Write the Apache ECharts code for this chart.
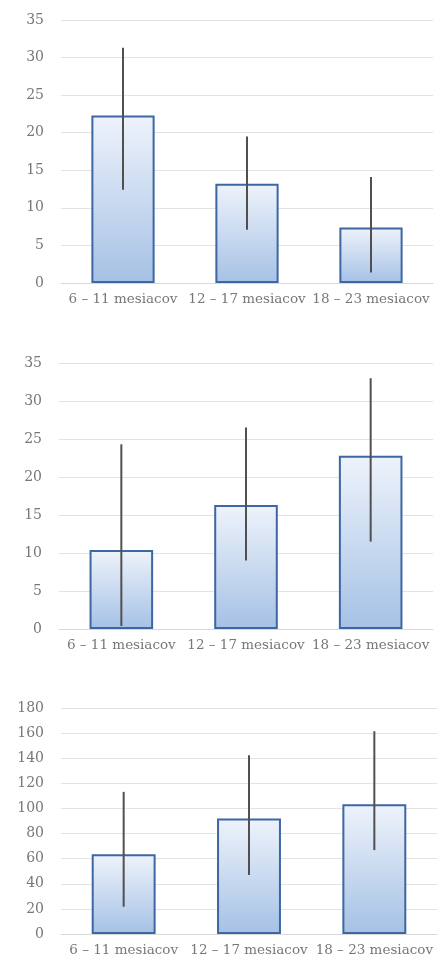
<!DOCTYPE html>
<html><head><meta charset="utf-8">
<script src="https://cdn.jsdelivr.net/npm/echarts@6/dist/echarts.min.js"></script>
<style>html,body{margin:0;padding:0;background:#fff}#c{width:445px;height:965px}</style>
</head><body><div id="c"></div>
<script>
const categories = ['6 – 11 mesiacov', '12 – 17 mesiacov', '18 – 23 mesiacov'];

const values1 = [22.3, 13.2, 7.4];
const errLow1 = [12.4, 7.1, 1.4];
const errHigh1 = [31.3, 19.5, 14.1];

const values2 = [10.4, 16.3, 22.8];
const errLow2 = [0.4, 9.0, 11.5];
const errHigh2 = [24.3, 26.5, 33.0];

const values3 = [63.6, 92.0, 103.4];
const errLow3 = [21.7, 46.9, 66.8];
const errHigh3 = [113.2, 142.4, 161.5];

const yTicks1 = {min: 0, max: 35, interval: 5};
const yTicks2 = {min: 0, max: 35, interval: 5};
const yTicks3 = {min: 0, max: 180, interval: 20};

const chart = echarts.init(document.getElementById('c'));
const FONT = '"DejaVu Serif", "Liberation Serif", serif';
const grids = [
  {left: 61, width: 372, top: 20, height: 263},
  {left: 59, width: 374, top: 363, height: 266},
  {left: 61, width: 376, top: 708, height: 226}
];
const ticks = [yTicks1, yTicks2, yTicks3];
const vals = [values1, values2, values3];
const lows = [errLow1, errLow2, errLow3];
const highs = [errHigh1, errHigh2, errHigh3];

const barStyle = {
  color: new echarts.graphic.LinearGradient(0, 0, 0, 1, [
    {offset: 0, color: '#eef3fb'},
    {offset: 1, color: '#a5c1e5'}
  ]),
  borderColor: '#3d66a3',
  borderWidth: 2
};

const series = [];
vals.forEach((v, i) => {
  series.push({
    type: 'bar', xAxisIndex: i, yAxisIndex: i, data: v,
    barWidth: '51%', itemStyle: barStyle, silent: true, z: 2
  });
  series.push({
    type: 'custom', xAxisIndex: i, yAxisIndex: i, z: 5, silent: true,
    data: categories.map((c, k) => [k, lows[i][k], highs[i][k]]),
    renderItem: function (params, api) {
      const x = api.value(0);
      const p1 = api.coord([x, api.value(1)]);
      const p2 = api.coord([x, api.value(2)]);
      return {type: 'line', shape: {x1: p1[0], y1: p1[1], x2: p2[0], y2: p2[1]},
        style: {stroke: '#505050', lineWidth: 2}};
    }
  });
});

chart.setOption({
  animation: false,
  backgroundColor: '#ffffff',
  grid: grids,
  xAxis: grids.map((g, i) => ({
    type: 'category', gridIndex: i, data: categories,
    axisLine: {show: true, lineStyle: {color: '#d9d9d9', width: 1}},
    axisTick: {show: false},
    axisLabel: {color: '#777777', fontFamily: FONT, fontSize: 13.5, margin: 9, interval: 0}
  })),
  yAxis: grids.map((g, i) => ({
    type: 'value', gridIndex: i, min: ticks[i].min, max: ticks[i].max, interval: ticks[i].interval,
    axisLine: {show: false}, axisTick: {show: false},
    splitLine: {lineStyle: {color: '#e3e3e3', width: 1}},
    axisLabel: {color: '#777777', fontFamily: FONT, fontSize: 14, margin: 17}
  })),
  series: series
});
</script></body></html>
